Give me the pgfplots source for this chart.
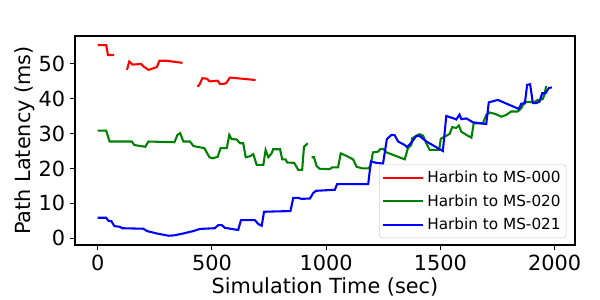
\documentclass[border=0pt]{standalone}
\usepackage{pgfplots}
\pgfplotsset{compat=1.18}
\usepackage{fontspec}
\setmainfont{DejaVu Sans}
\begin{document}
\begin{tikzpicture}
\useasboundingbox (-54pt,-39.6pt) rectangle (378pt,176.4pt);
\begin{axis}[
  at={(0pt,0pt)}, anchor=south west,
  scale only axis, width=360pt, height=150.5pt,
  xmin=-99.5, xmax=2089.5, ymin=-1.9, ymax=57.9,
  xtick={0,500,1000,1500,2000}, ytick={0,10,20,30,40,50},
  xtick pos=left, ytick pos=left,
  tick align=outside, major tick length=3.5pt,
  every tick/.style={black, line width=0.8pt},
  axis line style={black, line width=0.8pt},
  /pgf/number format/assume math mode=true,
  /pgf/number format/1000 sep={},
  tick label style={font=\fontsize{15}{18}\selectfont},
  label style={font=\fontsize{15}{18}\selectfont},
  xlabel={Simulation Time (sec)},
  ylabel={Path Latency (ms)},
  xlabel style={at={(axis description cs:0.5,-0.2)}, anchor=center},
  ylabel style={at={(axis description cs:-0.1,0.5)}, anchor=center, rotate=0},
  unbounded coords=jump,
  legend style={at={(axis description cs:0.983,0.033)}, anchor=south east,
    draw=black!20, rounded corners=2pt, fill=white,
    font=\fontsize{11}{13}\selectfont, inner xsep=2pt, inner ysep=2.5pt,
    row sep=3pt},
  legend cell align=left,
  legend image code/.code={\draw[#1] (0pt,0pt) -- (22pt,0pt); \path (-3pt,0pt) -- (26pt,0pt);},
]
\addplot[red, line width=1.5pt] coordinates {
(0,55.3)(37,55.3)(45,52.4)(72,52.4)(72,nan)
(128,48.2)(138,50.6)(152,49.7)(190,49.9)(200,49.2)(222,48.2)(259,49.0)(270,50.8)(302,50.8)(371,50.2)(371,nan)
(436,43.4)(445,43.9)(458,45.8)(477,45.7)(489,44.9)(525,45.1)(535,44.2)(550,44.2)(562,44.4)(579,46.0)(691,45.3)
};
\addlegendentry{Harbin to MS-000}
\addplot[color={rgb,1:red,0;green,0.5;blue,0}, line width=1.5pt] coordinates {
(0,30.8)(37,30.8)(52,27.7)(149,27.7)(160,26.7)(208,26.2)(222,27.7)(336,27.5)(349,29.6)(361,30.1)(375,27.7)(404,27.7)(419,26.4)(467,25.8)(489,23.2)(502,22.9)(525,23.3)(538,25.8)(565,25.8)(576,29.6)(586,28.4)(608,28.3)(623,27.2)(637,27.2)(648,23.2)(667,23.5)(681,24.1)(696,21.0)(725,21.0)(735,25.3)(747,23.2)(761,24.3)(768,25.5)(798,25.5)(808,22.6)(822,22.6)(830,21.7)(860,21.6)(878,19.6)(895,19.6)(903,26.2)(919,27.2)(919,nan)
(936,23.2)(947,23.2)(958,20.7)(972,19.9)(1016,19.8)(1026,20.3)(1052,20.3)(1064,24.3)(1089,23.6)(1118,22.6)(1133,20.5)(1159,20.0)(1184,20.0)(1194,20.7)(1205,24.6)(1227,24.8)(1238,25.6)(1250,25.6)(1264,24.6)(1300,23.7)(1344,22.6)(1358,25.8)(1373,26.7)(1376,28.6)(1402,29.6)(1409,29.8)(1424,29.4)(1433,28.0)(1453,25.3)(1495,25.3)(1502,28.5)(1519,29.1)(1541,29.9)(1552,31.8)(1570,31.6)(1581,32.3)(1592,30.5)(1614,29.6)(1636,28.8)(1646,32.9)(1686,32.9)(1701,35.3)(1716,36.0)(1740,35.6)(1767,34.8)(1788,35.3)(1810,36.3)(1839,36.3)(1854,37.2)(1868,39.0)(1912,39.0)(1927,39.6)(1948,39.8)(1956,41.1)(1963,43.6)
};
\addlegendentry{Harbin to MS-020}
\addplot[blue, line width=1.5pt] coordinates {
(0,5.9)(37,5.9)(47,5.0)(60,4.9)(73,3.5)(98,3.3)(106,2.9)(200,2.75)(215,2.1)(258,1.4)(310,0.75)(334,0.85)(375,1.4)(419,2.1)(448,2.7)(513,2.9)(528,3.8)(543,3.8)(557,3.0)(586,2.7)(615,2.4)(627,5.2)(688,5.2)(703,4.1)(718,3.6)(728,7.6)(775,7.7)(844,7.8)(856,11.6)(876,11.6)(892,11.3)(929,11.4)(943,12.9)(955,13.6)(1038,13.9)(1048,15.5)(1184,15.5)(1196,22.0)(1220,21.6)(1249,21.4)(1266,28.4)(1286,29.6)(1300,29.5)(1315,27.7)(1344,26.7)(1354,26.1)(1373,27.4)(1395,29.3)(1409,29.3)(1439,27.7)(1511,25.0)(1526,35.0)(1555,34.4)(1570,34.0)(1584,35.4)(1592,34.1)(1614,34.3)(1643,33.2)(1701,32.7)(1712,38.9)(1752,39.6)(1844,37.0)(1854,38.5)(1870,38.6)(1880,43.9)(1893,44.1)(1905,38.7)(1920,38.7)(1934,39.1)(1946,41.5)(1960,41.5)(1975,43.0)(1988,43.2)
};
\addlegendentry{Harbin to MS-021}
\end{axis}
\end{tikzpicture}
\end{document}
